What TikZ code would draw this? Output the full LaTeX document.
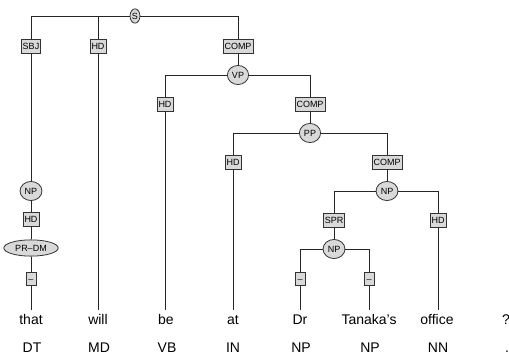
\documentclass[tikz,border=0pt]{standalone}
\usepackage{fontspec}
\setmainfont{Liberation Sans}
\usetikzlibrary{shapes.geometric}

\begin{document}
\begin{tikzpicture}[x=1pt,y=-1pt,
  edge/.style={draw=black!85, line width=0.85pt},
  role/.style={draw=black!80, fill=black!15, line width=0.8pt,
    font=\fontsize{9}{10}\selectfont, inner xsep=1.6pt, inner ysep=0pt,
    minimum height=14pt, text height=6.5pt, text depth=0pt},
  blank/.style={role, minimum width=10pt, minimum height=13pt, inner xsep=0pt},
  cat/.style={ellipse, draw=black!80, fill=black!15, line width=0.8pt,
    font=\fontsize{9}{10}\selectfont, inner xsep=1.5pt, inner ysep=3.5pt,
    text height=6.5pt, text depth=0pt},
  word/.style={font=\fontsize{14}{16}\selectfont, anchor=north,
    inner xsep=0pt, inner ysep=4pt, text height=10.5pt, text depth=0pt}]
\useasboundingbox (0,0) rectangle (509,356);

% phrase and function nodes
\node[cat, inner xsep=0.5pt, inner ysep=1.8pt] (s) at (135,16) {S};
\node[role] (sbj)   at (31,46)  {SBJ};
\node[role] (hdA)   at (98,46)  {HD};
\node[role] (compA) at (238,46) {COMP};
\node[cat]  (vp)    at (238,75) {VP};
\node[role] (hdB)   at (165,104) {HD};
\node[role] (compB) at (310,104) {COMP};
\node[cat]  (pp)    at (310,133) {PP};
\node[role] (hdC)   at (233,162) {HD};
\node[role] (compC) at (387,162) {COMP};
\node[cat]  (npA)   at (387,191) {NP};
\node[role] (spr)   at (334,220) {SPR};
\node[role] (hdD)   at (438,220) {HD};
\node[cat]  (npB)   at (334,249) {NP};
\node[blank] (dA)   at (300,279) {--};
\node[blank] (dB)   at (369,279) {--};
\node[cat]  (npL)   at (31,191) {NP};
\node[role] (hdL)   at (31,219) {HD};
\node[cat, inner xsep=3.5pt, inner ysep=2.5pt] (prdm) at (31,248) {PR--DM};
\node[blank] (dL)   at (31,279) {--};

% words
\node[word] (w1) at (31,310)  {that};
\node[word] (w2) at (98,310)  {will};
\node[word] (w3) at (166,310) {be};
\node[word] (w4) at (233,310) {at};
\node[word] (w5) at (300,310) {Dr};
\node[word] (w6) at (369,310) {Tanaka's};
\node[word] (w7) at (437,310) {office};
\node[word] (w8) at (506,310) {?};

% part-of-speech tags
\node[word] (t1) at (32,338)  {DT};
\node[word] (t2) at (99,338)  {MD};
\node[word] (t3) at (167,338) {VB};
\node[word] (t4) at (233,338) {IN};
\node[word] (t5) at (301,338) {NP};
\node[word] (t6) at (370,338) {NP};
\node[word] (t7) at (438,338) {NN};
\node[word] (t8) at (507,338) {.};

% tree edges
\draw[edge] (s) -| (sbj);
\draw[edge] (s) -| (hdA);
\draw[edge] (s) -| (compA);
\draw[edge] (compA) -- (vp);
\draw[edge] (vp) -| (hdB);
\draw[edge] (vp) -| (compB);
\draw[edge] (compB) -- (pp);
\draw[edge] (pp) -| (hdC);
\draw[edge] (pp) -| (compC);
\draw[edge] (compC) -- (npA);
\draw[edge] (npA) -| (spr);
\draw[edge] (npA) -| (hdD);
\draw[edge] (spr) -- (npB);
\draw[edge] (npB) -| (dA);
\draw[edge] (npB) -| (dB);
\draw[edge] (sbj) -- (npL);
\draw[edge] (npL) -- (hdL);
\draw[edge] (hdL) -- (prdm);
\draw[edge] (prdm) -- (dL);

% links down to the words
\draw[edge] (dL) -- (w1);
\draw[edge] (hdA) -- (w2);
\draw[edge] (hdB) -- (hdB |- w3.north);
\draw[edge] (hdC) -- (w4);
\draw[edge] (dA) -- (w5);
\draw[edge] (dB) -- (w6);
\draw[edge] (hdD) -- (hdD |- w7.north);
\end{tikzpicture}
\end{document}
